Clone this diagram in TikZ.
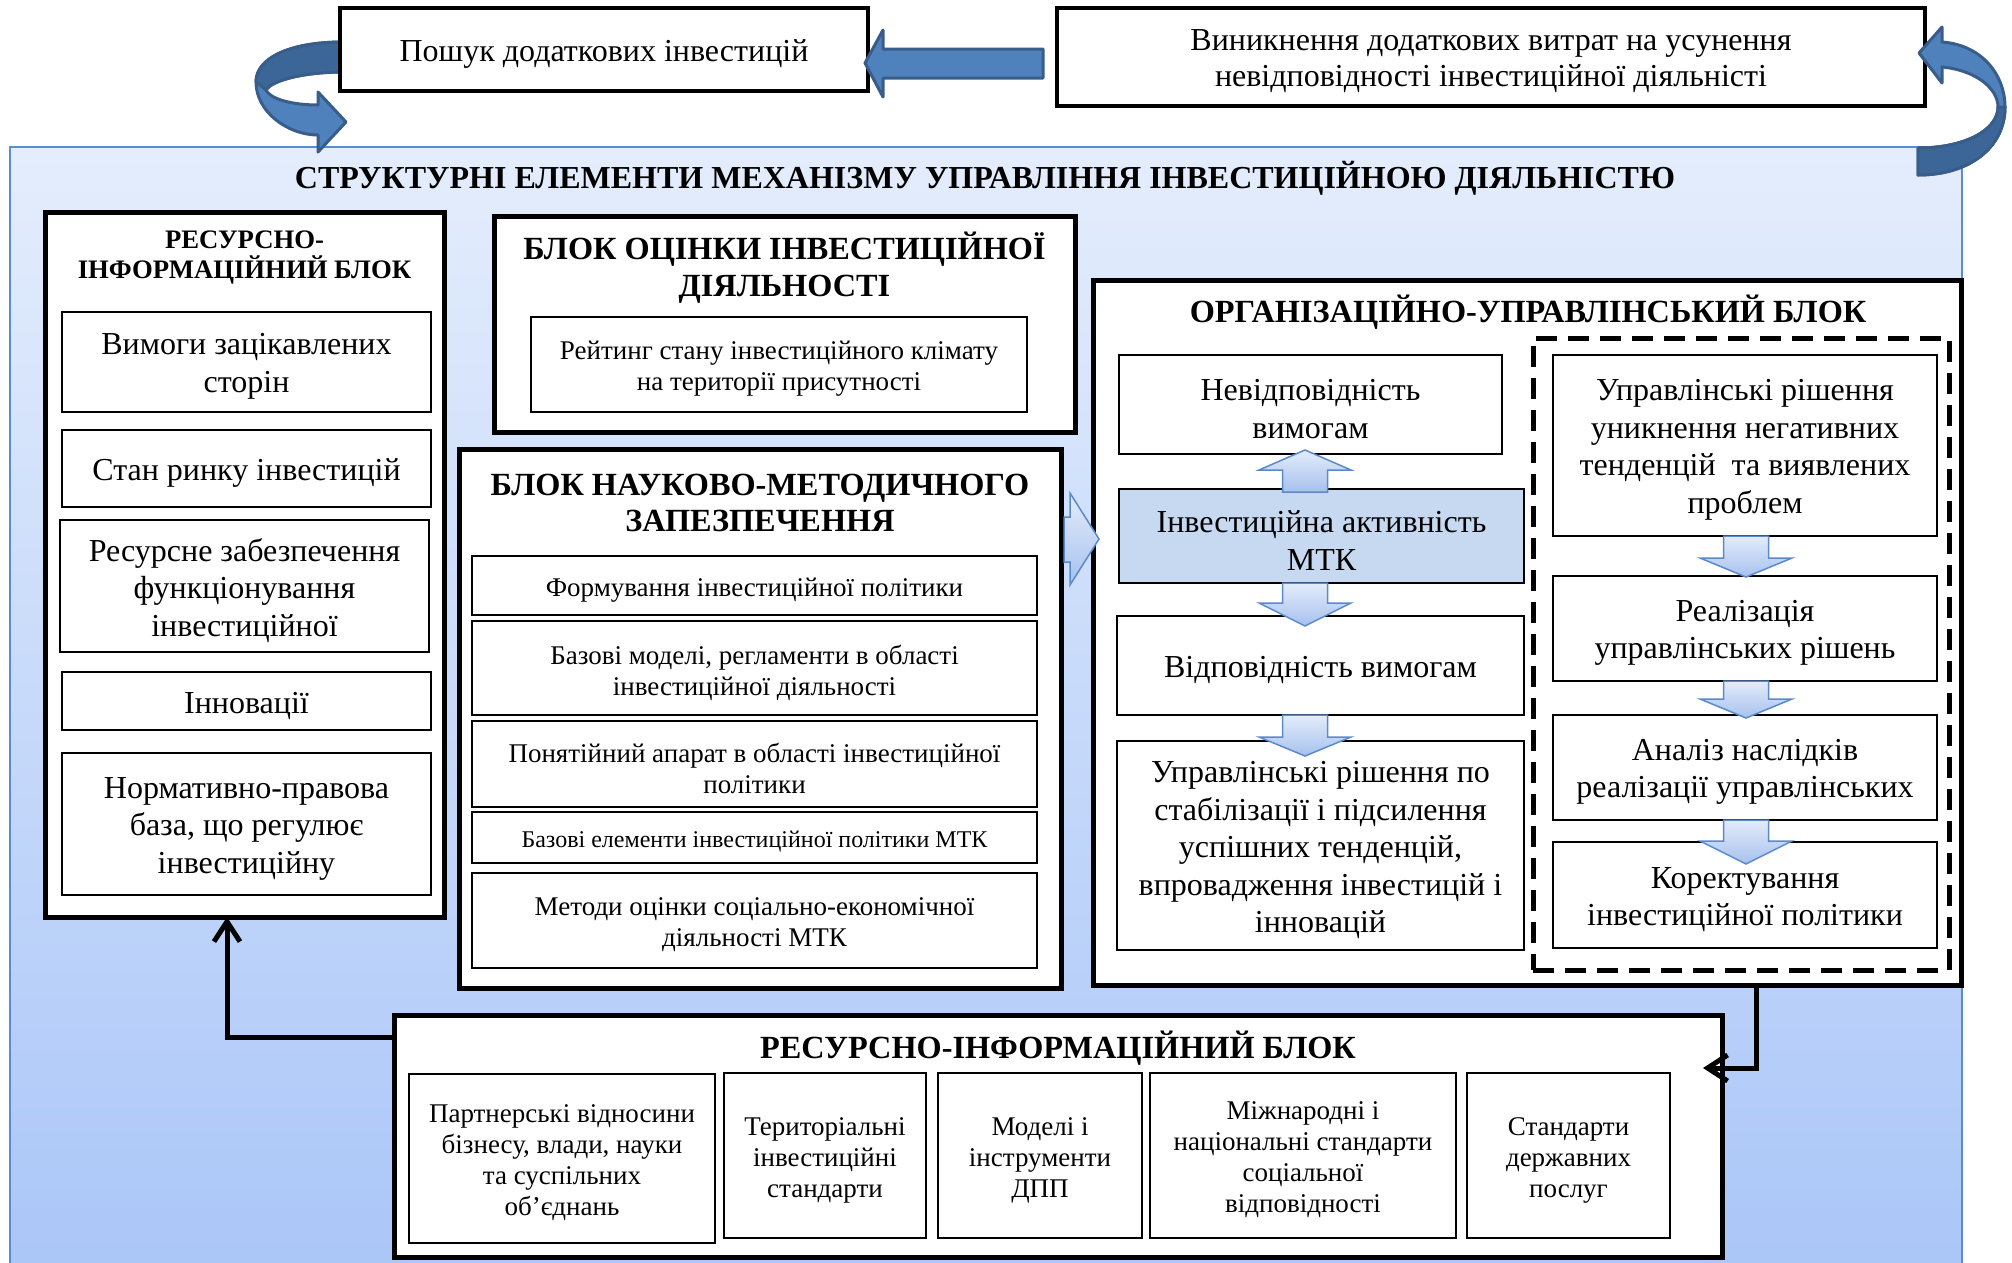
\documentclass[tikz,border=0pt]{standalone}
\usepackage{fontspec}
\setmainfont{Liberation Serif}
\usetikzlibrary{arrows.meta,calc}
\definecolor{bgtop}{HTML}{E4EDFC}
\definecolor{bgbot}{HTML}{AAC6F8}
\definecolor{bgline}{HTML}{5B8BD0}
\definecolor{arrfill}{HTML}{4F81BD}
\definecolor{arrdark}{HTML}{3D6698}
\definecolor{arrline}{HTML}{385D8A}
\definecolor{barline}{HTML}{5B8ACB}
\definecolor{bartop}{HTML}{E4ECFA}
\definecolor{barbot}{HTML}{A6C1EE}
\definecolor{actfill}{HTML}{C6D9F1}
\newcommand{\myblockarrow}[4]{%
  \path[barrow] ({#1-22.5},#2) -- ({#1+22.5},#2) -- ({#1+22.5},#3) -- ({#1+46},#3) -- (#1,#4) -- ({#1-46},#3) -- ({#1-22.5},#3) -- cycle;}
% box with text set slightly below its centre: name, style, width, height, cx, cy, text
\newcommand{\ibx}[7]{%
  \node[inbox, #2, minimum width=#3pt, minimum height=#4pt] (#1) at (#5,#6) {};
  \node[#2, txt] (#1t) at ([yshift=-4.5pt]#1.center) {#7};}
\begin{document}
\begin{tikzpicture}[x=1pt,y=-1pt,
  outerbox/.style={draw=black, line width=5pt, fill=white, inner sep=0pt, outer sep=0pt},
  inbox/.style={draw=black, line width=2.8pt, fill=white, inner sep=0pt, outer sep=0pt},
  txt/.style={align=center, inner sep=0pt, draw=none, fill=none},
  topbox/.style={draw=black, line width=4.5pt, fill=white, inner sep=0pt, outer sep=0pt, font=\fontsize{32}{36}\selectfont},
  dashbox/.style={draw=black, line width=5pt, dash pattern=on 21pt off 11pt, inner sep=0pt, outer sep=0pt},
  fbig/.style={font=\fontsize{32}{37.5}\selectfont},
  fmid/.style={font=\fontsize{27}{31}\selectfont},
  fsml/.style={font=\fontsize{24}{28}\selectfont},
  ttl/.style={font=\fontsize{32.3}{36.5}\selectfont\bfseries, align=center, inner sep=0pt},
  ttlsm/.style={font=\fontsize{26.7}{30}\selectfont\bfseries, align=center, inner sep=0pt},
  barrow/.style={draw=barline, line width=1.5pt, top color=bartop, bottom color=barbot},
  bigarrow/.style={fill=arrfill, draw=arrline, line width=3pt, line join=round},
  conn/.style={draw=black, line width=5pt},
  tipA/.style={-{Straight Barb[length=20pt,width=26pt]}}
]
\useasboundingbox (0,0) rectangle (2012,1262);
\fill[white] (0,0) rectangle (2012,1262);
% background panel
\shade[top color=bgtop, bottom color=bgbot] (10,147) rectangle (1962,1275);
\draw[bgline, line width=2pt] (10,1275) -- (10,147) -- (1962,147) -- (1962,1275);

% left curved arrow
\path[bigarrow] (343,42) .. controls (290,42) and (256,58) .. (256,82)
   .. controls (256,112) and (288,135) .. (318,135) -- (318,152) -- (346,122) -- (318,92) -- (318,105)
   .. controls (292,105) and (270,99) .. (266,90) .. controls (272,80) and (305,72) .. (343,72) -- cycle;
\path[fill=arrdark, draw=arrline, line width=3pt, line join=round] (343,42) .. controls (290,42) and (256,58) .. (256,82)
   -- (266,90) .. controls (272,80) and (305,72) .. (343,72) -- cycle;

% top boxes
\ibx{A}{topbox}{528}{83}{604}{49.5}{Пошук додаткових інвестицій}
\ibx{Bx}{topbox}{868}{98}{1491}{57}{Виникнення додаткових витрат на усунення\\невідповідності інвестиційної діяльністі}

% right curved arrow
\path[bigarrow] (1918,148) .. controls (1965,148) and (1998,130) .. (1998,107)
   .. controls (1998,88) and (1975,70) .. (1942,67) -- (1942,83) -- (1919,53) -- (1942,27) -- (1942,42)
   .. controls (1982,45) and (2005,75) .. (2005,107) .. controls (2005,147) and (1970,175) .. (1918,175) -- cycle;
\path[fill=arrdark, draw=arrline, line width=3pt, line join=round] (1918,148) .. controls (1965,148) and (1998,130) .. (1998,107)
   -- (2005,107) .. controls (2005,147) and (1970,175) .. (1918,175) -- cycle;

% straight arrow B -> A
\path[bigarrow] (1043,49) -- (883,49) -- (883,30) -- (865,63) -- (883,97) -- (883,78) -- (1043,78) -- cycle;

% main title
\node[ttl, font=\fontsize{32}{36}\selectfont\bfseries] (T) at (985,178.5) {СТРУКТУРНІ ЕЛЕМЕНТИ МЕХАНІЗМУ УПРАВЛІННЯ ІНВЕСТИЦІЙНОЮ ДІЯЛЬНІСТЮ};

% left column block
\node[outerbox, minimum width=399pt, minimum height=705pt] (L) at (244.5,564.5) {};
\node[ttlsm] (Lt) at (244.5,257.5) {РЕСУРСНО-\\ІНФОРМАЦІЙНИЙ БЛОК};
\ibx{L1}{fbig}{369}{100}{246.5}{362}{Вимоги зацікавлених\\сторін}
\ibx{L2}{fbig}{369}{77}{246.5}{468.5}{Стан ринку інвестицій}
\ibx{L3}{fbig}{369}{132}{244.5}{586}{Ресурсне забезпечення\\функціонування\\інвестиційної}
\ibx{L4}{fbig}{369}{58}{246.5}{701}{Інновації}
\ibx{L5}{fbig}{369}{142}{246.5}{824}{Нормативно-правова\\база, що регулює\\інвестиційну}

% assessment block
\node[outerbox, minimum width=581pt, minimum height=216pt] (O) at (784.5,324) {};
\node[ttl] (Ot) at (784.5,267.5) {БЛОК ОЦІНКИ ІНВЕСТИЦІЙНОЇ\\ДІЯЛЬНОСТІ};
\ibx{O1}{fmid}{496}{95}{779}{364.5}{Рейтинг стану інвестиційного клімату\\на території присутності}

% scientific-methodical block
\node[outerbox, minimum width=602pt, minimum height=539pt] (N) at (760,718.5) {};
\node[ttl] (Nt) at (760,503) {БЛОК НАУКОВО-МЕТОДИЧНОГО\\ЗАПЕЗПЕЧЕННЯ};
\ibx{N1}{fmid}{565}{59}{754.5}{585.5}{Формування інвестиційної політики}
\ibx{N2}{fmid}{565}{94}{754.5}{668}{Базові моделі, регламенти в області\\інвестиційної діяльності}
\ibx{N3}{fmid}{565}{86}{754.5}{764}{Понятійний апарат в області інвестиційної\\політики}
\ibx{N4}{fsml}{565}{51}{754.5}{837.5}{Базові елементи інвестиційної політики МТК}
\ibx{N5}{fmid}{565}{95}{754.5}{920.5}{Методи оцінки соціально-економічної\\діяльності МТК}

% organisational-managerial block
\node[outerbox, minimum width=868pt, minimum height=705pt] (U) at (1527,632.5) {};
\node[ttl] (Ut) at (1528,312.5) {ОРГАНІЗАЦІЙНО-УПРАВЛІНСЬКИЙ БЛОК};
\node[dashbox, minimum width=416pt, minimum height=632pt] (D) at (1741,654) {};
\ibx{U1}{fbig}{383}{99}{1310.5}{404.5}{Невідповідність\\вимогам}
\ibx{U2}{fbig, fill=actfill}{405}{94}{1321.5}{536}{Інвестиційна активність\\МТК}
\ibx{U3}{fbig}{407}{99}{1320.5}{665.5}{Відповідність вимогам}
\ibx{U4}{fbig}{407}{209}{1320.5}{845.5}{Управлінські рішення по\\стабілізації і підсилення\\успішних тенденцій,\\впровадження інвестицій і\\інновацій}
\ibx{R1}{fbig}{384}{181}{1745}{445.5}{Управлінські рішення\\уникнення негативних\\тенденцій\ \ та виявлених\\проблем}
\ibx{R2}{fbig}{384}{105}{1745}{628.5}{Реалізація\\управлінських рішень}
\ibx{R3}{fbig}{384}{105}{1745}{767.5}{Аналіз наслідків\\реалізації управлінських}
\ibx{R4}{fbig}{384}{106}{1745}{895}{Коректування\\інвестиційної політики}

% block arrows inside
\myblockarrow{1305}{492}{470}{450}
\myblockarrow{1305}{583}{603}{626}
\myblockarrow{1305}{715}{737}{756}
\myblockarrow{1746}{536}{558}{577}
\myblockarrow{1746}{681}{699}{718}
\myblockarrow{1746}{820}{841}{864}

% outline arrow N -> U
\path[barrow] (1064,517) -- (1070,517) -- (1070,493) -- (1099,539) -- (1070,585) -- (1070,562) -- (1064,562) -- cycle;

% bottom resource block
\node[outerbox, minimum width=1328pt, minimum height=242pt] (RB) at (1058,1136) {};
\node[ttl] (RBt) at (1058,1048.5) {РЕСУРСНО-ІНФОРМАЦІЙНИЙ БЛОК};
\ibx{B1}{fmid, line width=2.5pt}{306}{169}{562}{1158.5}{Партнерські відносини\\бізнесу, влади, науки\\та суспільних\\об’єднань}
\ibx{B2}{fmid, line width=2.5pt}{202}{165}{825}{1155.5}{Територіальні\\інвестиційні\\стандарти}
\ibx{B3}{fmid, line width=2.5pt}{204}{165}{1040}{1155.5}{Моделі і\\інструменти\\ДПП}
\ibx{B4}{fmid, line width=2.5pt}{306}{165}{1303}{1155.5}{Міжнародні і\\національні стандарти\\соціальної\\відповідності}
\ibx{B5}{fmid, line width=2.5pt}{203}{165}{1568.5}{1155.5}{Стандарти\\державних\\послуг}

% connectors
\draw[conn, tipA] ([yshift=99pt]RB.west) -| ([xshift=-17.5pt]L.south);
\draw[conn, tipA] ([xshift=229pt]U.south) |- ([xshift=-19pt,yshift=68pt]RB.east);
\end{tikzpicture}
\end{document}
